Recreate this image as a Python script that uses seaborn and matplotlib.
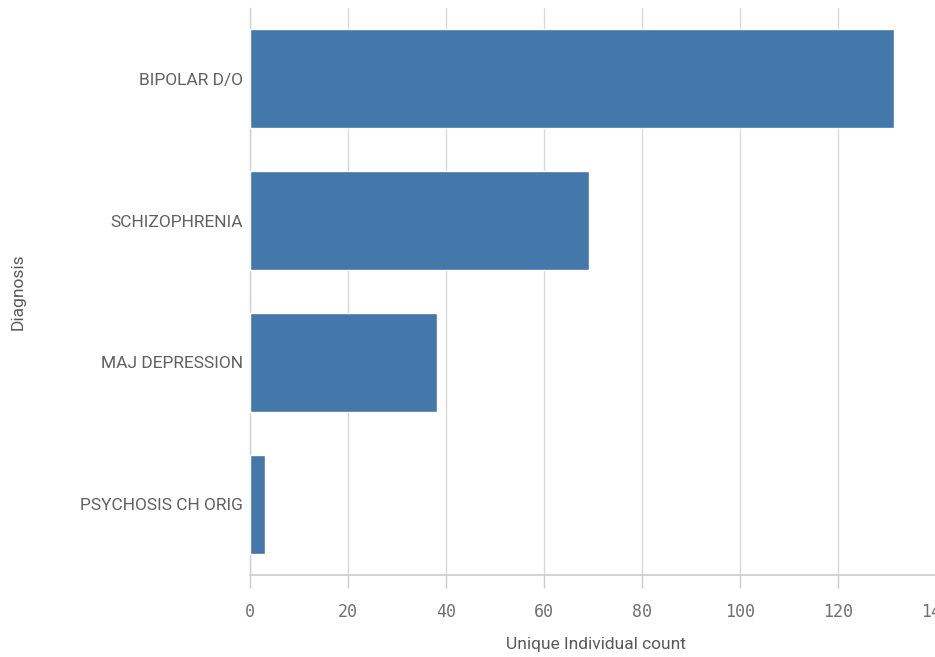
import matplotlib
matplotlib.use("Agg")
import matplotlib.pyplot as plt
import seaborn as sns
import pandas as pd

diagnoses = ["BIPOLAR D/O", "SCHIZOPHRENIA", "MAJ DEPRESSION", "PSYCHOSIS CH ORIG"]
counts = [131.4, 69.2, 38.2, 3.1]
x_ticks = [0, 20, 40, 60, 80, 100, 120, 140]

df = pd.DataFrame({"Diagnosis": diagnoses, "Unique Individual count": counts})

sns.set_theme(style="white")
plt.rcParams["font.family"] = ["Roboto", "DejaVu Sans"]

fig = plt.figure(figsize=(9.35, 6.57), dpi=100)
ax = fig.add_axes([250 / 935, (657 - 575) / 657, 686 / 935, (575 - 8) / 657])

sns.barplot(data=df, y="Diagnosis", x="Unique Individual count", orient="h",
            color="#4477AA", saturation=1, width=0.7, ax=ax, zorder=3)

ax.set_xlim(0, 140)
ax.set_ylim(3.5, -0.5)
ax.set_xticks(x_ticks)
ax.set_xticklabels([str(t) for t in x_ticks], fontfamily="DejaVu Sans Mono",
                   fontsize=12, color="#707070")
ax.tick_params(axis="x", length=9, width=1, color="#cccccc", pad=11, bottom=True)
ax.tick_params(axis="y", length=0, pad=5, labelsize=12.5, labelcolor="#606060")

ax.grid(axis="x", color="#d9d9d9", linewidth=1, zorder=0)
ax.grid(axis="y", visible=False)
for s in ["top", "right"]:
    ax.spines[s].set_visible(False)
ax.spines["left"].set_color("#d0d0d0")
ax.spines["bottom"].set_color("#cccccc")
ax.spines["left"].set_linewidth(1)
ax.spines["bottom"].set_linewidth(1.2)

ax.set_xlabel("Unique Individual count", fontsize=12.5, color="#595959")
ax.set_ylabel("Diagnosis", fontsize=12.5, color="#595959")
ax.xaxis.set_label_coords((596 - 250) / 686, -(637 - 575) / 567)
ax.yaxis.set_label_coords(-(250 - 26) / 686, 0.5)

fig.savefig("out.png", dpi=100)
